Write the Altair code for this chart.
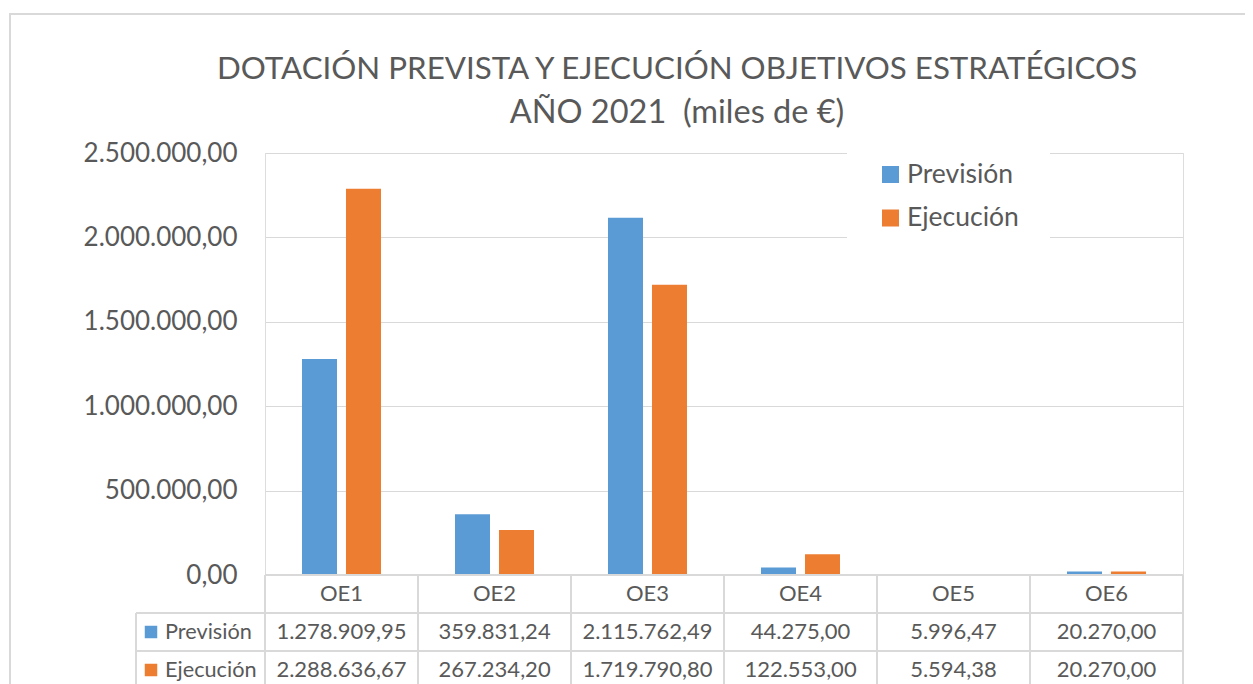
import altair as alt
import pandas as pd

categories = ["OE1", "OE2", "OE3", "OE4", "OE5", "OE6"]
series = ["Previsión", "Ejecución"]
prevision = [1278909.95, 359831.24, 2115762.49, 44275.00, 5996.47, 20270.00]
ejecucion = [2288636.67, 267234.20, 1719790.80, 122553.00, 5594.38, 20270.00]
y_ticks = [0, 500000, 1000000, 1500000, 2000000, 2500000]
title_lines = ["DOTACIÓN PREVISTA Y EJECUCIÓN OBJETIVOS ESTRATÉGICOS", "AÑO 2021 \u00a0(miles de €)"]
title_sizes = [31.3, 32.5]
colors = ["#5B9BD5", "#ED7D31"]

FONT = "Lato"
TXT = "#595959"
GRID = "#D9D9D9"

rows = []
for c, p, e in zip(categories, prevision, ejecucion):
    rows.append({"cat": c, "serie": series[0], "v": p})
    rows.append({"cat": c, "serie": series[1], "v": e})
df = pd.DataFrame(rows)
cat_df = pd.DataFrame({"cat": categories})


def es(expr):
    return ("replace(replace(replace(format(" + expr + ", ',.2f'), regexp(',', 'g'), '#'), "
            "regexp('[.]', 'g'), ','), regexp('#', 'g'), '.')")


W, H = 918, 422
xcat = alt.X("cat:N", sort=categories, axis=None, scale=alt.Scale(paddingInner=0, paddingOuter=0))
color = alt.Color("serie:N", sort=series, scale=alt.Scale(domain=series, range=colors), legend=None)

# outer frame
frame = alt.Chart(pd.DataFrame({"a": [0]})).mark_rect(fill=None, stroke=GRID, strokeWidth=2).encode(
    x=alt.value(-255), x2=alt.value(1000), y=alt.value(-139), y2=alt.value(700)
)

bars = alt.Chart(df).mark_bar().encode(
    x=xcat,
    xOffset=alt.XOffset("serie:N", sort=series, scale=alt.Scale(paddingInner=0.2045, paddingOuter=0.841)),
    y=alt.Y("v:Q", scale=alt.Scale(domain=[0, 2500000], nice=False),
            axis=alt.Axis(values=y_ticks, labelExpr=es("datum.value"), labelFontSize=26, labelColor=TXT,
                          labelFont=FONT, labelPadding=28, ticks=False, domain=False, grid=True,
                          gridColor=GRID, gridWidth=1, title=None)),
    color=color,
)

title_layers = []
for i, t in enumerate(title_lines):
    title_layers.append(
        alt.Chart(pd.DataFrame({"t": [t]})).mark_text(fontSize=title_sizes[i], font=FONT, color=TXT, baseline="middle", align="center").encode(
            text="t:N", x=alt.value(412), y=alt.value(-83 + 43 * i)
        )
    )

# legend
leg_bg = alt.Chart(pd.DataFrame({"a": [0]})).mark_rect(fill="white").encode(
    x=alt.value(582), x2=alt.value(785), y=alt.value(-6), y2=alt.value(92)
)
legend_layers = []
table_label_layers = []
row_y = [479, 517]
for i, s in enumerate(series):
    sdf = pd.DataFrame({"serie": [s]})
    legend_layers.append(alt.Chart(sdf).mark_point(shape="square", filled=True, opacity=1, size=289).encode(
        x=alt.value(625.5), y=alt.value(21.5 + 43.5 * i), color=color))
    legend_layers.append(alt.Chart(sdf).mark_text(fontSize=26.5, font=FONT, color=TXT, align="left", baseline="middle").encode(
        x=alt.value(642), y=alt.value(21.5 + 43.5 * i), text="serie:N"))
    table_label_layers.append(alt.Chart(sdf).mark_point(shape="square", filled=True, opacity=1, size=156).encode(
        x=alt.value(-114), y=alt.value(row_y[i]), color=color))
    table_label_layers.append(alt.Chart(sdf).mark_text(fontSize=21.7, font=FONT, color=TXT, align="left", baseline="middle").encode(
        x=alt.value(-100), y=alt.value(row_y[i]), text="serie:N"))
    table_label_layers.append(alt.Chart(df[df.serie == s]).transform_calculate(lbl=es("datum.v")).mark_text(
        fontSize=22, font=FONT, color=TXT, align="center", baseline="middle").encode(
        x=xcat, y=alt.value(row_y[i]), text="lbl:N"))

# table grid
tb = dict(stroke=GRID, strokeWidth=2)
vlines = alt.Chart(cat_df).mark_rule(**tb).encode(
    x=alt.X("cat:N", sort=categories, axis=None, bandPosition=0, scale=alt.Scale(paddingInner=0, paddingOuter=0)),
    y=alt.value(422), y2=alt.value(560))
vright = alt.Chart(cat_df.head(1)).mark_rule(**tb).encode(x=alt.value(W), y=alt.value(422), y2=alt.value(560))
vleft = alt.Chart(cat_df.head(1)).mark_rule(**tb).encode(x=alt.value(-129), y=alt.value(460), y2=alt.value(560))
h0 = alt.Chart(cat_df.head(1)).mark_rule(**tb).encode(x=alt.value(0), x2=alt.value(W), y=alt.value(422))
h1 = alt.Chart(cat_df.head(1)).mark_rule(**tb).encode(x=alt.value(-129), x2=alt.value(W), y=alt.value(460))
h2 = alt.Chart(cat_df.head(1)).mark_rule(**tb).encode(x=alt.value(-129), x2=alt.value(W), y=alt.value(498))
header = alt.Chart(cat_df).mark_text(fontSize=22, font=FONT, color=TXT, baseline="middle").encode(
    x=xcat, text="cat:N", y=alt.value(441))

chart = alt.layer(
    frame, bars, *title_layers, leg_bg, *legend_layers,
    vlines, vright, vleft, h0, h1, h2, header, *table_label_layers
).properties(
    width=W, height=H,
    autosize=alt.AutoSizeParams(type="none"),
    padding={"left": 257, "top": 145, "right": 62, "bottom": 109},
).configure_view(stroke=None).configure(font=FONT)

chart.save("out.html", embed_options={"renderer": "svg", "actions": False})
